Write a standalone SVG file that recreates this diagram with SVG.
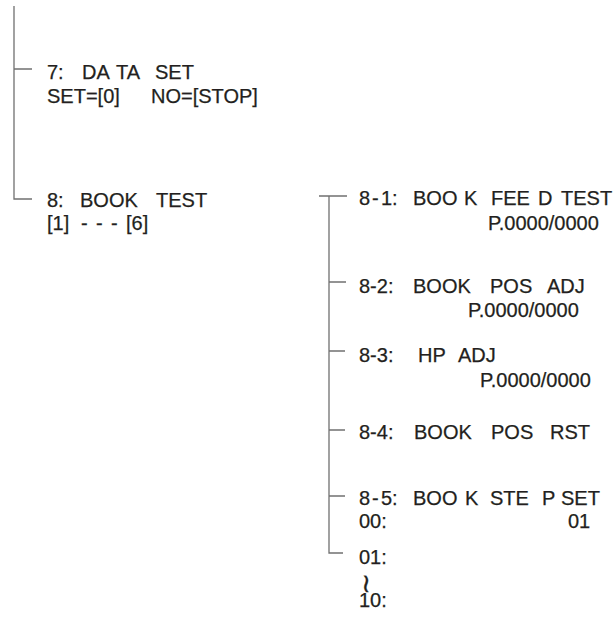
<svg xmlns="http://www.w3.org/2000/svg" width="616" height="625" viewBox="0 0 616 625">
<style>
text{font-family:"Liberation Sans",Arial,sans-serif;font-size:20px;fill:#231f20;stroke:#231f20;stroke-width:0.25}
.ln{stroke:#707070;stroke-width:1.3;fill:none}
.sq{font-family:"DejaVu Sans",sans-serif;font-size:26px;stroke-width:0.3}
</style>
<rect width="616" height="625" fill="#fff"/>
<g id="connectors">
<path class="ln" d="M14,6 V199 H32 M14,69 H32"/>
<path class="ln" d="M319,196 H347 M329,196 V553 H343 M329,282 H346 M329,351 H345 M329,430 H345 M329,496 H345"/>
</g>
<g id="n7">
<text y="79"><tspan x="47">7:</tspan><tspan x="82">DA</tspan><tspan x="116">TA</tspan><tspan x="155">SET</tspan></text>
<text y="103"><tspan x="47">SET=[0]</tspan><tspan x="151">NO=[STOP]</tspan></text>
</g>
<g id="n8">
<text y="207"><tspan x="47">8:</tspan><tspan x="80">BOOK</tspan><tspan x="156">TEST</tspan></text>
<text y="230"><tspan x="47">[1]</tspan><tspan x="81">-</tspan><tspan x="96">-</tspan><tspan x="111">-</tspan><tspan x="126">[6]</tspan></text>
</g>
<g id="n8-1">
<text y="205"><tspan x="359">8</tspan><tspan x="372">-</tspan><tspan x="381">1:</tspan><tspan x="413">BOO</tspan><tspan x="464">K</tspan><tspan x="491">FEE</tspan><tspan x="538">D</tspan><tspan x="561">TEST</tspan></text>
<text x="488" y="230">P.0000/0000</text>
</g>
<g id="n8-2">
<text y="293"><tspan x="359">8-2:</tspan><tspan x="413">BOOK</tspan><tspan x="490">POS</tspan><tspan x="547">ADJ</tspan></text>
<text x="468" y="317">P.0000/0000</text>
</g>
<g id="n8-3">
<text y="362"><tspan x="359">8-3:</tspan><tspan x="418">HP</tspan><tspan x="458">ADJ</tspan></text>
<text x="480" y="387">P.0000/0000</text>
</g>
<g id="n8-4">
<text y="439"><tspan x="359">8-4:</tspan><tspan x="414">BOOK</tspan><tspan x="491">POS</tspan><tspan x="550">RST</tspan></text>
</g>
<g id="n8-5">
<text y="505"><tspan x="359">8</tspan><tspan x="372">-</tspan><tspan x="381">5:</tspan><tspan x="413">BOO</tspan><tspan x="465">K</tspan><tspan x="490">STE</tspan><tspan x="542">P</tspan><tspan x="561">SET</tspan></text>
<text y="528"><tspan x="359">00:</tspan><tspan x="568">01</tspan></text>
</g>
<g id="n-range">
<text x="359" y="564">01:</text>
<text class="sq" x="366" y="592" text-anchor="middle">≀</text>
<text x="359" y="607">10:</text>
</g>
</svg>
